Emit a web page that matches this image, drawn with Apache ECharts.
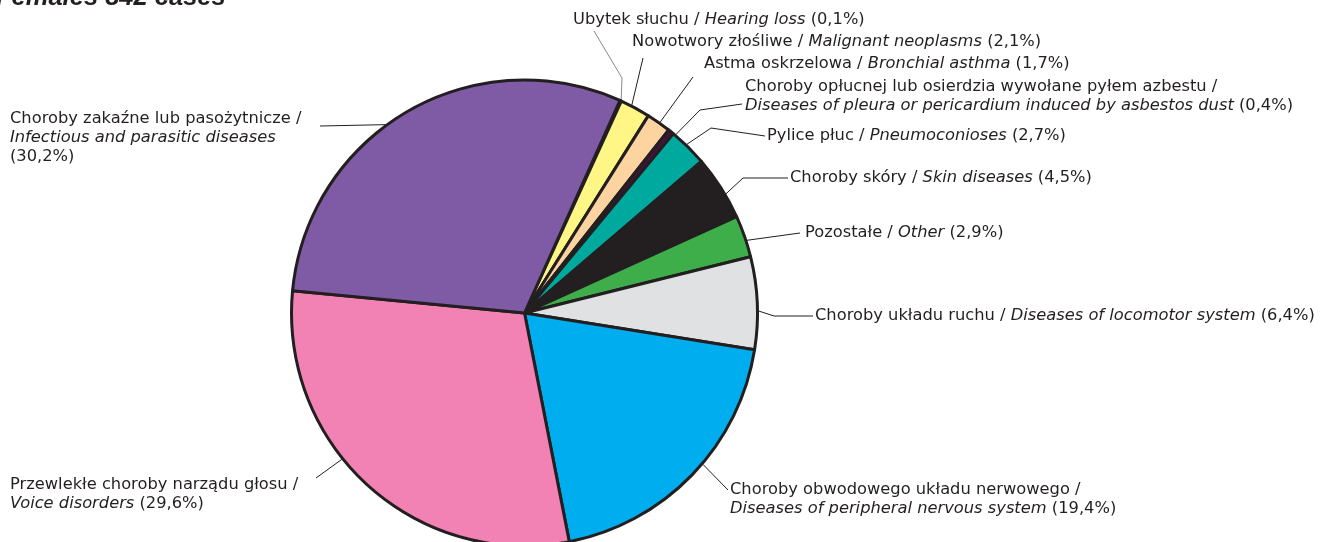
<!DOCTYPE html>
<html><head><meta charset="utf-8">
<script src="https://cdn.jsdelivr.net/npm/echarts@6/dist/echarts.min.js"></script>
<style>html,body{margin:0;padding:0;background:#fff}#c{width:1329px;height:542px}</style>
</head><body><div id="c"></div>
<script>
// ---- data ----
const polishNames = [
  'Ubytek słuchu', 'Nowotwory złośliwe', 'Astma oskrzelowa',
  'Choroby opłucnej lub osierdzia wywołane pyłem azbestu', 'Pylice płuc',
  'Choroby skóry', 'Pozostałe', 'Choroby układu ruchu',
  'Choroby obwodowego układu nerwowego', 'Przewlekłe choroby narządu głosu',
  'Choroby zakaźne lub pasożytnicze'
];
const englishNames = [
  'Hearing loss', 'Malignant neoplasms', 'Bronchial asthma',
  'Diseases of pleura or pericardium induced by asbestos dust', 'Pneumoconioses',
  'Skin diseases', 'Other', 'Diseases of locomotor system',
  'Diseases of peripheral nervous system', 'Voice disorders',
  'Infectious and parasitic diseases'
];
const values = [0.1, 2.1, 1.7, 0.4, 2.7, 4.5, 2.9, 6.4, 19.4, 29.6, 30.2];
const titleText = 'Females 842 cases';

// ---- styles / layout ----
const colors = ['#9b9b9b', '#FFF685', '#FDD3A0', '#4D0F43', '#00A99D', '#231F20',
  '#3DAE4A', '#E0E1E2', '#00AEEF', '#F282B4', '#7F5BA6'];
const CX = 524.5, CY = 313, R = 233;
// label line-break mode: 0 inline, 1 break after slash, 2 break after slash and before value
const breakMode = [0, 0, 0, 1, 0, 0, 0, 0, 1, 1, 2];
// label top-left positions [x, top]
const labelPos = [
  [573, 10], [632, 32], [704, 54], [745, 77], [767, 126], [790, 168],
  [805, 223], [815, 306], [730, 480], [10, 475], [10, 109]
];
// angle (deg, math convention) where each leader line leaves the pie edge
const lineStartAngle = [65.6, 62.7, 54.6, 49.7, 46.1, 30.6, 18.1, 0.5, -40.3, 218.7, 126.4];
// intermediate leader-line points
const linePts = [
  [[622, 78], [594, 31]],
  [[643, 58]],
  [[693, 77]],
  [[700, 110], [742, 104]],
  [[711, 128], [765, 136]],
  [[743, 178], [788, 178]],
  [[800, 233]],
  [[774, 316], [813, 316]],
  [[728, 490]],
  [[316, 478]],
  [[320, 126]]
];
const FONT = 'DejaVu Sans';
const FS = 16.3;
const LH = 19;

function fmtPct(v) { return v.toFixed(1).replace('.', ','); }

function buildLabel(i) {
  const pl = '{n|' + polishNames[i] + ' /}';
  const en = '{i|' + englishNames[i] + '}';
  const pct = '{n|(' + fmtPct(values[i]) + '%)}';
  const m = breakMode[i];
  if (m === 0) return pl + '{n| }' + en + '{n| }' + pct;
  if (m === 1) return pl + '\n' + en + '{n| }' + pct;
  return pl + '\n' + en + '\n' + pct;
}

const chart = echarts.init(document.getElementById('c'), null, { renderer: 'canvas' });
chart.setOption({
  animation: false,
  backgroundColor: '#fff',
  graphic: [{
    type: 'text', left: -4, top: -15,
    style: { text: titleText, font: 'italic bold 25.5px "Liberation Sans", Arial, sans-serif', fill: '#231F20' }
  }],
  series: [{
    type: 'pie',
    center: [CX, CY],
    radius: [0, R],
    startAngle: 65.8,
    clockwise: true,
    avoidLabelOverlap: false,
    data: values.map((v, i) => ({
      name: englishNames[i], value: v,
      itemStyle: { color: colors[i] },
      labelLine: { lineStyle: { color: i === 0 ? '#8a8a8a' : '#231F20' } }
    })),
    itemStyle: { borderColor: '#231F20', borderWidth: 3 },
    label: {
      show: true, position: 'outside',
      formatter: p => buildLabel(p.dataIndex),
      color: '#231F20', fontFamily: FONT, fontSize: FS, lineHeight: LH,
      rich: {
        n: { fontFamily: FONT, fontSize: FS, lineHeight: LH, color: '#231F20' },
        i: { fontFamily: FONT, fontSize: FS, lineHeight: LH, color: '#231F20', fontStyle: 'italic' }
      }
    },
    labelLine: { show: true, length: 10, length2: 10, lineStyle: { width: 1 } },
    emphasis: { disabled: true },
    labelLayout: function (params) {
      const i = params.dataIndex;
      const a = lineStartAngle[i] * Math.PI / 180;
      const start = [CX + (R + 1) * Math.cos(a), CY - (R + 1) * Math.sin(a)];
      const pts = [start].concat(linePts[i]);
      if (pts.length === 2) pts.push(pts[1].slice());
      return {
        x: labelPos[i][0], y: labelPos[i][1],
        align: 'left', verticalAlign: 'top',
        labelLinePoints: pts
      };
    }
  }]
});
</script>
</body></html>
